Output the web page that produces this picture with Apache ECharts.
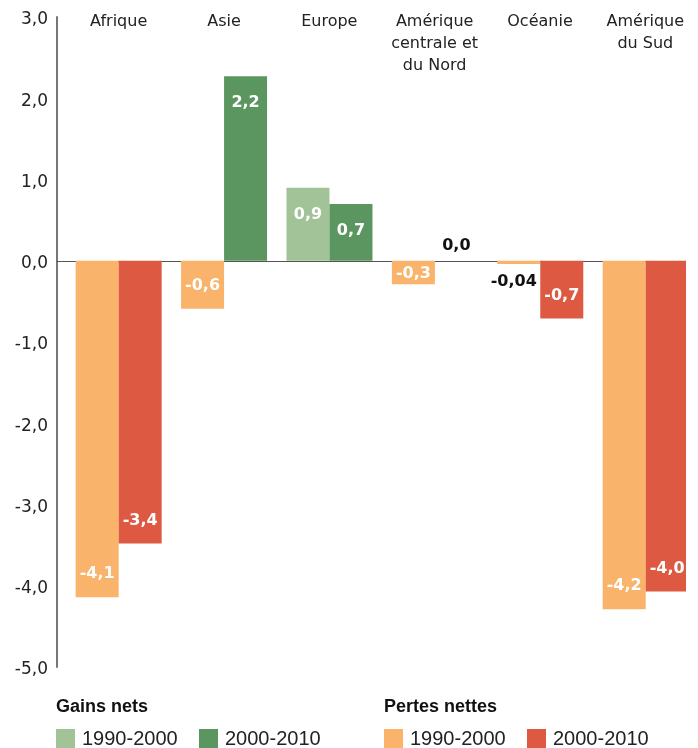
<!DOCTYPE html>
<html>
<head>
<meta charset="utf-8">
<script src="https://cdn.jsdelivr.net/npm/echarts@6/dist/echarts.min.js"></script>
<style>
html,body{margin:0;padding:0;background:#fff;}
#chart{width:698px;height:748px;}
</style>
</head>
<body>
<div id="chart"></div>
<script>
// ---- data ----
const categories = ['Afrique', 'Asie', 'Europe', 'Amérique\ncentrale et\ndu Nord', 'Océanie', 'Amérique\ndu Sud'];
const periods = ['1990-2000', '2000-2010'];
const values1990 = [-4.14, -0.59, 0.90, -0.29, -0.04, -4.29];
const values2000 = [-3.48, 2.27, 0.70, 0.0, -0.71, -4.07];
const labels1990 = ['-4,1', '-0,6', '0,9', '-0,3', '-0,04', '-4,2'];
const labels2000 = ['-3,4', '2,2', '0,7', '0,0', '-0,7', '-4,0'];
const yMin = -5, yMax = 3, yStep = 1;
const legendGroups = ['Gains nets', 'Pertes nettes'];

// ---- styles ----
const gainColors = ['#a1c397', '#5b9660'];
const lossColors = ['#f9b36a', '#dd5941'];
const labelFont = 'DejaVu Sans';

function buildItem(i, v, txt, s) {
  const label = {
    show: true,
    formatter: txt,
    fontFamily: labelFont,
    fontWeight: 'bold',
    fontSize: 16,
    color: '#fff'
  };
  if (v === 0) {
    label.position = 'top';
    label.distance = 7;
    label.color = '#111';
  } else if (Math.abs(v) < 0.1) {
    label.position = 'bottom';
    label.distance = 10;
    label.offset = [-5, 0];
    label.color = '#111';
  } else if (Math.abs(v) < 0.45) {
    label.position = 'inside';
    label.offset = [0, 1];
  } else if (v > 0) {
    label.position = 'insideTop';
    label.distance = 19;
  } else {
    label.position = 'insideBottom';
    label.distance = 15;
  }
  return {
    value: [i, v],
    itemStyle: { color: v >= 0 ? gainColors[s] : lossColors[s] },
    label: label
  };
}

const series = [values1990, values2000].map((vals, s) => ({
  name: periods[s],
  type: 'bar',
  xAxisIndex: 0,
  yAxisIndex: 0,
  barWidth: 43,
  barGap: '0%',
  data: vals.map((v, i) => buildItem(i, v, (s === 0 ? labels1990 : labels2000)[i], s))
}));

// legend built with graphic elements
function legendBlock(x, title, colors) {
  const els = [{
    type: 'text', left: x, top: 698,
    style: { text: title, font: 'bold 18px "Liberation Sans", Arial', fill: '#111' }
  }];
  const offsets = [0, 143];
  colors.forEach((c, k) => {
    els.push({ type: 'rect', left: x + offsets[k], top: 729, shape: { width: 19, height: 19 }, style: { fill: c } });
    els.push({ type: 'text', left: x + offsets[k] + 26, top: 729,
      style: { text: periods[k], font: '20px "Liberation Sans", Arial', fill: '#222' } });
  });
  return els;
}

const chart = echarts.init(document.getElementById('chart'), null, { renderer: 'canvas' });
chart.setOption({
  animation: false,
  backgroundColor: '#fff',
  grid: [
    { left: 57, right: 13, top: 17, bottom: 81 },
    { left: 66, right: 0, top: 10, height: 1 }
  ],
  xAxis: [
    {
      type: 'value', gridIndex: 0, min: -0.585, max: 5.373,
      axisLine: { show: true, onZero: true, lineStyle: { color: '#555', width: 1 } },
      axisTick: { show: false }, axisLabel: { show: false }, splitLine: { show: false }
    },
    {
      type: 'category', gridIndex: 1, data: categories, position: 'bottom',
      axisLine: { show: false }, axisTick: { show: false }, splitLine: { show: false },
      axisLabel: {
        interval: 0, margin: 0, fontFamily: labelFont, fontSize: 16,
        lineHeight: 22, color: '#222', verticalAlign: 'top'
      }
    }
  ],
  yAxis: [
    {
      type: 'value', gridIndex: 0, min: yMin, max: yMax, interval: yStep,
      axisLine: { show: true, onZero: false, lineStyle: { color: '#777', width: 2 } },
      axisTick: { show: false }, splitLine: { show: false },
      axisLabel: {
        margin: 9, fontFamily: labelFont, fontSize: 17, color: '#222',
        verticalAlign: 'top', lineHeight: 6,
        formatter: v => v.toFixed(1).replace('.', ',')
      }
    },
    { type: 'value', gridIndex: 1, show: false }
  ],
  series: series,
  graphic: [].concat(
    legendBlock(56, legendGroups[0], gainColors),
    legendBlock(384, legendGroups[1], lossColors),
    [{ type: 'rect', left: 686, top: 250, z: 100, shape: { width: 12, height: 440 }, style: { fill: '#fff' } }]
  )
});
</script>
</body>
</html>
